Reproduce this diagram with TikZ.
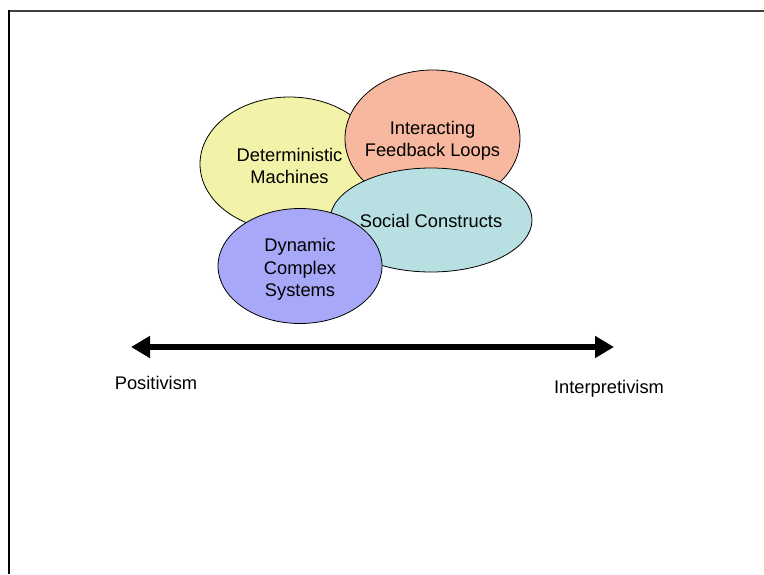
\documentclass[tikz,border=0pt]{standalone}
\usepackage{fontspec}
\setmainfont{Liberation Sans}
\usetikzlibrary{arrows.meta,shapes.geometric}
\definecolor{cyellow}{HTML}{F2F2A8}
\definecolor{csalmon}{HTML}{F8B8A0}
\definecolor{cteal}{HTML}{B8E0E2}
\definecolor{clav}{HTML}{A8A8F8}
\tikzset{
  blob/.style={ellipse, draw=black, line width=0.8pt, inner sep=0pt},
  lbl/.style={inner sep=0pt, align=center, font=\fontsize{18.3}{22.5}\selectfont},
}
\begin{document}
\begin{tikzpicture}[x=1pt,y=-1pt]
\useasboundingbox (0,0) rectangle (764,574);
\draw[line width=2pt, black!75] (764,11) -- (9,11);
\draw[line width=2pt, black] (9,10) -- (9,574);
\node[blob, fill=cyellow, minimum width=179pt, minimum height=134pt] (det) at (289.5,164) {};
\node[lbl] (detT) at ([yshift=-2pt]det.center) {Deterministic\\Machines};
\node[blob, fill=csalmon, minimum width=175pt, minimum height=137pt] (ifl) at (432.5,138.5) {};
\node[lbl] (iflT) at ([yshift=-2.5pt]ifl.center) {Interacting\\Feedback Loops};
\node[blob, fill=cteal, minimum width=202pt, minimum height=104pt] (soc) at (431,220) {};
\node[lbl] (socT) at ([yshift=-0.5pt]soc.center) {Social Constructs};
\node[blob, fill=clav, minimum width=164pt, minimum height=115pt] (dyn) at (300,266) {};
\node[lbl] (dynT) at ([yshift=-3.5pt]dyn.center) {Dynamic\\Complex\\Systems};
\coordinate (L) at (131,347);
\coordinate (R) at (614,347);
\draw[line width=6pt, {Triangle[length=19pt,width=21pt]}-{Triangle[length=19pt,width=21pt]}] (L) -- (R);
\node[lbl] (pos) at (156,382.5) {Positivism};
\node[lbl] (int) at (609,388.5) {Interpretivism};
\end{tikzpicture}
\end{document}
